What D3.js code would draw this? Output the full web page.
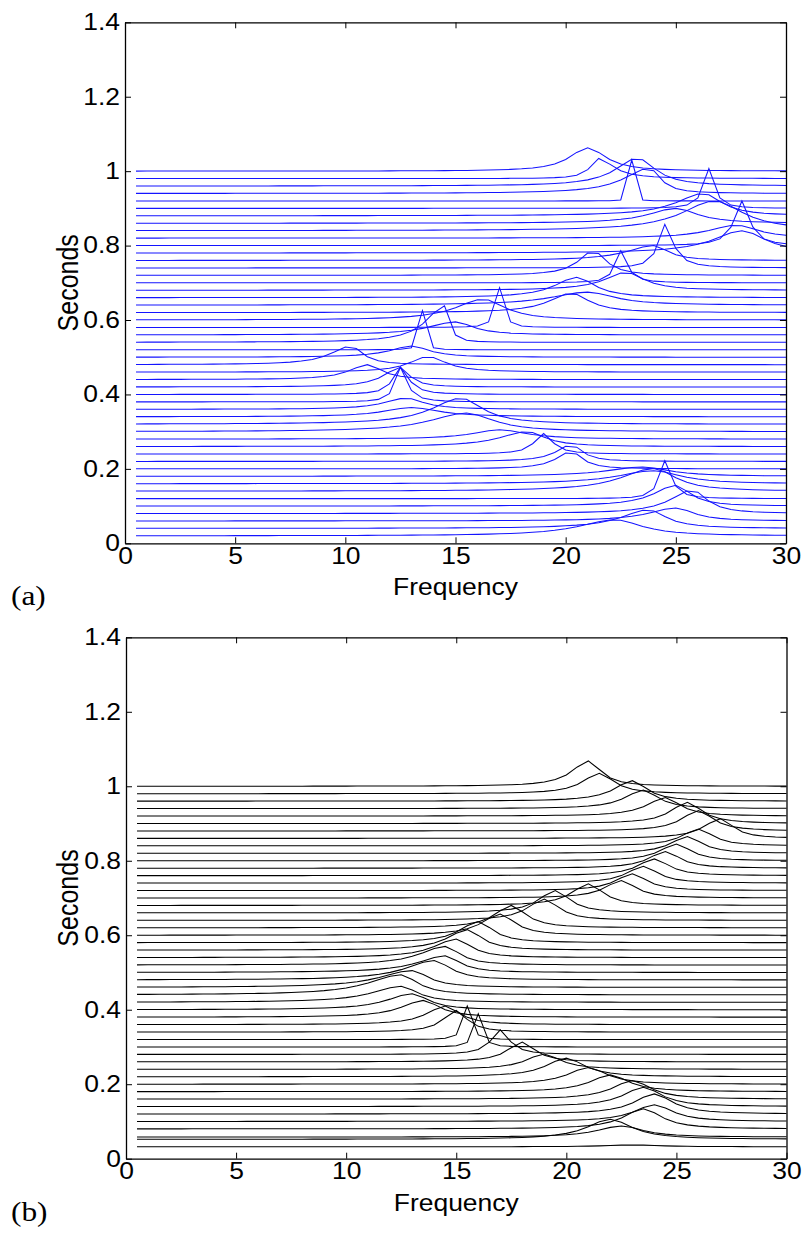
<!DOCTYPE html>
<html>
<head>
<meta charset="utf-8">
<script src="https://cdn.jsdelivr.net/npm/d3@7"></script>
<style>
  body { margin: 0; background: #fff; }
  svg { display: block; }
</style>
</head>
<body>
<svg id="fig" width="806" height="1233"></svg>
<script>
// Frequency grid on which every spectrum is sampled (Hz)
const freqHz = [0.5,1,1.5,2,2.5,3,3.5,4,4.5,5,5.5,6,6.5,7,7.5,8,8.5,9,9.5,10,
  10.5,11,11.5,12,12.5,13,13.5,14,14.5,15,15.5,16,16.5,17,17.5,18,18.5,19,19.5,20,
  20.5,21,21.5,22,22.5,23,23.5,24,24.5,25,25.5,26,26.5,27,27.5,28,28.5,29,29.5,30];

const xTickValues = [0, 5, 10, 15, 20, 25, 30];
const xTickLabels = ["0", "5", "10", "15", "20", "25", "30"];
const yTickValues = [0, 0.2, 0.4, 0.6, 0.8, 1, 1.2, 1.4];
const yTickLabels = ["0", "0.2", "0.4", "0.6", "0.8", "1", "1.2", "1.4"];

// (a) one spectrum per time step: offset (s), peak frequency, peak height, half-widths below / above the peak
const secondsA = [1.00,0.98,0.96,0.94,0.92,0.90,0.88,0.86,0.84,0.82,0.80,0.78,0.76,0.74,0.72,0.70,0.68,0.66,0.64,0.62,
  0.60,0.58,0.56,0.54,0.52,0.50,0.48,0.46,0.44,0.42,0.40,0.38,0.36,0.34,0.32,0.30,0.28,0.26,0.24,0.22,
  0.20,0.18,0.16,0.14,0.12,0.10,0.08,0.06,0.04,0.02];
const peakHzA = [21.0,21.5,23.25,23.8,23.0,26.5,26.25,25.0,26.75,27.75,28.0,28.0,24.0,24.5,21.25,22.5,22.75,20.5,21.0,20.25,
  16.25,17.0,15.0,14.5,13.5,13.0,10.25,13.75,11.0,12.5,12.5,12.5,12.75,13.0,15.25,15.5,17.0,18.25,19.0,20.25,
  20.25,23.5,24.0,24.0,24.5,25.0,25.75,25.0,23.75,22.25];
const peakAmpA = [0.063,0.054,0.075,0.068,0.110,0.107,0.060,0.040,0.080,0.035,0.120,0.060,0.040,0.117,0.066,0.086,0.048,0.055,0.035,0.052,
  0.056,0.107,0.035,0.098,0.105,0.030,0.050,0.042,0.040,0.053,0.073,0.093,0.030,0.025,0.070,0.050,0.025,0.040,0.055,0.045,
  0.047,0.025,0.035,0.061,0.102,0.056,0.063,0.035,0.050,0.043];
const widthLoA = [1.0,0.45,1.2,1.4,0.08,0.3,1.5,1.5,1.8,1.5,0.42,1.6,1.5,0.35,0.8,0.3,1.2,1.2,2.0,1.2,
  1.5,0.2,1.5,1.0,0.12,1.2,1.1,1.0,1.0,0.9,0.4,0.28,1.2,1.5,1.6,2.0,1.5,1.5,0.5,0.8,
  0.8,2.0,2.0,1.8,0.3,1.2,1.2,1.5,1.5,2.0];
const widthHiA = [1.0,0.8,1.0,0.6,0.08,0.3,1.0,1.2,1.6,1.2,0.42,1.3,0.8,0.45,0.7,0.35,1.0,1.0,1.5,1.0,
  1.2,0.2,1.0,0.25,0.12,1.0,0.65,1.0,0.8,0.5,0.45,0.35,1.0,1.5,1.2,1.5,1.5,1.0,0.5,0.6,
  0.6,1.5,1.5,1.2,0.35,0.8,0.8,1.0,1.0,1.5];

// (b) smoothed estimate, same layout of parameters
const secondsB = [1.00,0.98,0.96,0.94,0.92,0.90,0.88,0.86,0.84,0.82,0.80,0.78,0.76,0.74,0.72,0.70,0.68,0.66,0.64,0.62,
  0.60,0.58,0.56,0.54,0.52,0.50,0.48,0.46,0.44,0.42,0.40,0.38,0.36,0.34,0.32,0.30,0.28,0.26,0.24,0.22,
  0.20,0.18,0.16,0.14,0.12,0.10,0.08,0.058,0.052,0.032];
const peakHzB = [21.0,21.5,23.0,23.5,24.5,25.5,26.0,27.0,26.0,25.5,25.0,24.5,24.0,23.5,23.0,22.5,21.0,19.5,19.0,17.5,
  17.0,16.0,15.5,15.0,14.5,14.5,14.0,13.0,12.5,12.5,13.0,13.5,14.5,15.0,15.5,16.0,17.0,18.0,19.0,20.0,
  21.0,22.0,23.0,23.5,24.0,24.0,23.5,22.5,22.0,23.0];
const peakAmpB = [0.068,0.055,0.055,0.050,0.050,0.057,0.055,0.053,0.045,0.045,0.045,0.045,0.045,0.045,0.045,0.047,0.058,0.060,0.057,0.060,
  0.057,0.057,0.055,0.050,0.050,0.045,0.052,0.045,0.054,0.043,0.043,0.045,0.050,0.058,0.090,0.089,0.066,0.053,0.041,0.050,
  0.045,0.045,0.050,0.052,0.054,0.045,0.054,0.030,0.054,0.005];
const widthLoB = [0.9,0.9,1.0,1.0,1.0,0.9,0.9,0.9,0.9,0.9,0.9,0.9,0.9,0.9,0.9,0.9,0.9,0.9,0.9,0.9,
  1.0,1.0,1.1,1.2,1.4,1.5,1.6,1.8,1.8,1.6,1.4,1.2,1.0,0.7,0.2,0.2,0.5,0.8,1.0,1.1,
  1.1,1.1,1.1,1.1,1.1,1.1,1.1,1.3,1.3,1.5];
const widthHiB = [0.7,0.8,0.8,0.8,0.8,0.8,0.8,0.7,0.8,0.8,0.8,0.8,0.8,0.8,0.8,0.8,0.8,0.8,0.8,0.8,
  0.8,0.8,0.8,0.8,0.8,0.8,0.9,0.9,0.9,0.9,0.9,0.9,0.8,0.6,0.2,0.2,0.5,0.7,0.9,1.0,
  1.0,1.0,1.0,1.0,1.0,1.0,1.0,1.2,1.2,1.5];

const svg = d3.select("#fig");
const FONT = "'Liberation Sans', Arial, Helvetica, sans-serif";
const STRETCH = 1.15;

// resonance-shaped spectrum around a peak, one sample per grid frequency
function spectrum(base, f0, amp, wLo, wHi) {
  return freqHz.map(f => {
    const w = f < f0 ? wLo : wHi;
    const u = (f - f0) / w;
    return { f, v: base + amp / (1 + u * u) };
  });
}

function drawPanel(cfg) {
  const x = d3.scaleLinear().domain([0, 30]).range([cfg.left, cfg.right]);
  const y = d3.scaleLinear().domain([0, 1.4]).range([cfg.bottom, cfg.top]);
  const g = svg.append("g");

  const line = d3.line().x(d => x(d.f)).y(d => y(d.v));
  const rows = cfg.seconds.map((s, i) =>
    spectrum(s, cfg.peakHz[i], cfg.peakAmp[i], cfg.wLo[i], cfg.wHi[i]));

  g.append("g").selectAll("path").data(rows).join("path")
    .attr("d", line)
    .attr("fill", "none")
    .attr("stroke", cfg.color)
    .attr("stroke-width", 1.05)
    .attr("stroke-linejoin", "miter");

  const fmtX = d => xTickLabels[xTickValues.indexOf(d)];
  const fmtY = d => yTickLabels[yTickValues.indexOf(d)];

  const axB = g.append("g").attr("transform", `translate(0,${cfg.bottom})`)
    .call(d3.axisBottom(x).tickValues(xTickValues).tickFormat(fmtX).tickSizeInner(-6).tickSizeOuter(0).tickPadding(4));
  const axT = g.append("g").attr("transform", `translate(0,${cfg.top})`)
    .call(d3.axisTop(x).tickValues(xTickValues).tickFormat("").tickSizeInner(-6).tickSizeOuter(0));
  const axL = g.append("g").attr("transform", `translate(${cfg.left},0)`)
    .call(d3.axisLeft(y).tickValues(yTickValues).tickFormat(fmtY).tickSizeInner(-6).tickSizeOuter(0).tickPadding(6));
  const axR = g.append("g").attr("transform", `translate(${cfg.right},0)`)
    .call(d3.axisRight(y).tickValues(yTickValues).tickFormat("").tickSizeInner(-6).tickSizeOuter(0));

  [axB, axT, axL, axR].forEach(a => {
    a.selectAll(".domain").attr("stroke", "#000").attr("stroke-width", 1.3);
    a.selectAll(".tick line").attr("stroke", "#000").attr("stroke-width", 1);
  });
  axB.selectAll(".tick text")
    .attr("font-family", FONT).attr("font-size", 23).attr("fill", "#000")
    .attr("transform", `scale(${STRETCH},1)`);
  axL.selectAll(".tick text")
    .attr("font-family", FONT).attr("font-size", 23).attr("fill", "#000")
    .attr("x", 0)
    .attr("transform", `translate(-5,0) scale(${STRETCH},1)`);

  g.append("text")
    .attr("transform", `translate(${(cfg.left + cfg.right) / 2},${cfg.bottom + 52}) scale(${STRETCH},1)`)
    .attr("text-anchor", "middle")
    .attr("font-family", FONT).attr("font-size", 23)
    .text("Frequency");

  g.append("text")
    .attr("transform", `translate(78,${(cfg.top + cfg.bottom) / 2}) scale(${STRETCH},1) rotate(-90)`)
    .attr("text-anchor", "middle")
    .attr("font-family", FONT).attr("font-size", 25)
    .text("Seconds");

  g.append("text")
    .attr("transform", `translate(11,${cfg.bottom + 62}) scale(1.12,1)`)
    .attr("font-family", "'Liberation Serif', 'DejaVu Serif', serif").attr("font-size", 28)
    .text(cfg.tag);
}

drawPanel({
  left: 125, right: 786, top: 22.3, bottom: 543.3, color: "#1414ff", tag: "(a)",
  seconds: secondsA, peakHz: peakHzA, peakAmp: peakAmpA, wLo: widthLoA, wHi: widthHiA
});
drawPanel({
  left: 126, right: 786.5, top: 637.3, bottom: 1158.7, color: "#000", tag: "(b)",
  seconds: secondsB, peakHz: peakHzB, peakAmp: peakAmpB, wLo: widthLoB, wHi: widthHiB
});
</script>
</body>
</html>
